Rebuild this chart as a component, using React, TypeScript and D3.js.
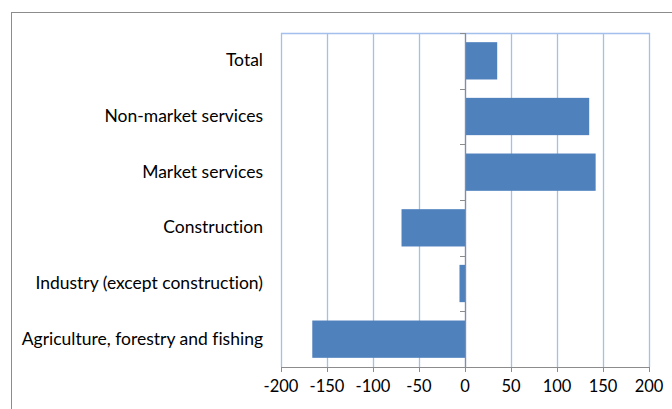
import React from "react";
import * as d3 from "d3";

const categories = [
  "Total",
  "Non-market services",
  "Market services",
  "Construction",
  "Industry (except construction)",
  "Agriculture, forestry and fishing",
];
const values = [35, 135, 142, -69, -6, -166];
const xTicks = [-200, -150, -100, -50, 0, 50, 100, 150, 200];

export default function App() {
  const W = 672;
  const H = 409;
  const left = 281;
  const right = 649;
  const top = 33;
  const bottom = 367;
  const x = d3.scaleLinear().domain([-200, 200]).range([left, right]);
  const y = d3.scaleBand().domain(categories).range([top, bottom]).paddingInner(0.33).paddingOuter(0.165);
  const band = d3.scaleBand().domain(categories).range([top, bottom]);
  const font = "Lato, sans-serif";
  const grid = "#a3bfec";
  const axis = "#8c8c8c";
  return (
    <svg width={W} height={H} style={{ position: "absolute", left: 0, top: 0, display: "block", fontVariantLigatures: "none" }}>
      <rect x={0} y={0} width={W} height={H} fill="#fff" />
      <rect x={11.5} y={12.5} width={W + 10} height={H + 10} fill="none" stroke={axis} strokeWidth={1} />
      {xTicks.map((t) => (
        <line key={"g" + t} x1={Math.round(x(t)) + 0.5} x2={Math.round(x(t)) + 0.5} y1={top} y2={bottom} stroke={grid} strokeWidth={1.3} />
      ))}
      <line x1={left} x2={right + 1} y1={top + 0.5} y2={top + 0.5} stroke={grid} strokeWidth={1.3} />
      {categories.map((c, i) => {
        const v = values[i];
        return (
          <rect
            key={c}
            x={x(Math.min(0, v))}
            y={y(c)}
            width={Math.abs(x(v) - x(0))}
            height={y.bandwidth()}
            fill="#4f81bd"
          />
        );
      })}
      {/* zero axis */}
      <line x1={Math.round(x(0)) + 0.5} x2={Math.round(x(0)) + 0.5} y1={top} y2={bottom} stroke={axis} strokeWidth={1.2} />
      {categories.map((c, i) => (
        <line key={"yt" + i} x1={x(0) - 5} x2={x(0)} y1={Math.round(band(c)!) + 0.5} y2={Math.round(band(c)!) + 0.5} stroke={axis} />
      ))}
      {/* bottom axis */}
      <line x1={left} x2={right + 1} y1={bottom + 0.5} y2={bottom + 0.5} stroke={axis} strokeWidth={1.2} />
      {xTicks.map((t) => (
        <g key={"t" + t}>
          <line x1={Math.round(x(t)) + 0.5} x2={Math.round(x(t)) + 0.5} y1={bottom} y2={bottom + 5} stroke={axis} />
          <text x={x(t)} y={392} textAnchor="middle" fontFamily={font} fontSize={16.5} fill="#000">
            {t}
          </text>
        </g>
      ))}
      {categories.map((c) => (
        <text key={"l" + c} x={263} y={band(c)! + band.bandwidth() / 2 + 5.5} textAnchor="end" fontFamily={font} fontSize={17.5} fill="#000">
          {c}
        </text>
      ))}
    </svg>
  );
}
